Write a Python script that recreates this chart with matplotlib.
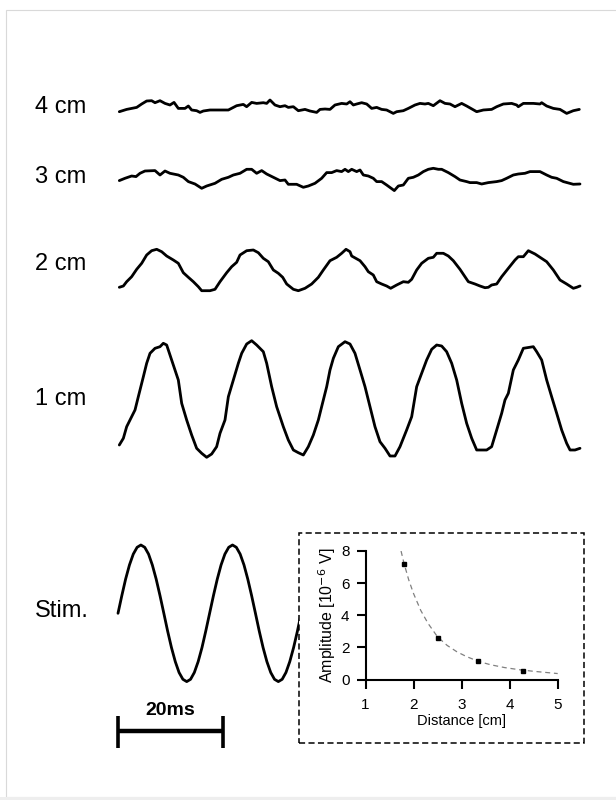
import numpy as np
import matplotlib.pyplot as plt
from matplotlib.patches import Rectangle

plt.rcParams["font.family"] = ["Liberation Sans", "DejaVu Sans"]

t_4cm = [0.25, 1.65, 3.56, 4.51, 5.46, 6.41, 7.05, 8.0, 8.95, 9.9, 10.67, 11.49, 12.76, 13.4, 14.03,
         14.98, 15.62, 16.25, 17.52, 21.02, 22.6, 23.87, 24.5, 25.46, 26.41, 27.68, 28.32, 28.95, 29.9,
         30.86, 31.81, 32.44, 33.4, 34.35, 35.62, 36.57, 37.84, 38.48, 39.43, 40.38, 41.33, 42.6, 43.56,
         44.19, 44.83, 45.46, 46.41, 47.37, 48.32, 49.27, 50.22, 51.17, 51.81, 52.44, 53.08, 54.35, 55.3,
         56.57, 57.52, 58.48, 59.11, 60.06, 61.33, 62.29, 63.24, 64.19, 65.46, 66.41, 68.32, 69.59, 71.17,
         72.13, 73.4, 74.98, 75.94, 76.25, 77.21, 79.11, 80.38, 80.7, 81.65, 82.92, 84.19, 85.46, 86.73, 87.87]
v_4cm = [-0.5, -0.27, -0.07, 0.27, 0.57, 0.6, 0.4, 0.6, 0.33, 0.17, 0.43, -0.17, -0.17, 0.07, -0.33,
         -0.4, -0.57, -0.43, -0.33, -0.33, 0.1, 0.23, 0, 0.43, 0.33, 0.4, 0.33, 0.67, 0.17,
         0, 0.1, -0.07, 0, -0.4, -0.27, -0.43, -0.57, -0.27, -0.23, -0.27, 0.17, 0.33, 0.27,
         0.5, 0.17, 0.27, 0.4, 0.27, -0.17, -0.07, -0.27, -0.33, -0.5, -0.67, -0.5, -0.4, -0.17,
         0.17, 0.33, 0.27, 0.33, 0.1, 0.6, 0.33, 0.27, 0, 0.33, 0.07, -0.5, -0.33, -0.27,
         0, 0.27, 0.33, 0.17, 0, 0.33, 0.33, 0.27, 0.4, 0.07, -0.17, -0.27, -0.67, -0.4, -0.27]

t_3cm = [0.25, 1.33, 2.6, 3.43, 4.19, 5.14, 7.05, 8.0, 8.95, 9.9, 11.49, 12.44, 13.4, 14.67, 15.94,
         16.89, 18.48, 19.75, 21.02, 21.97, 23.24, 24.51, 25.46, 26.41, 27.37, 28.32, 29.59, 30.86, 31.81,
         32.44, 34.03, 35.3, 36.25, 37.52, 38.79, 39.75, 40.7, 41.65, 42.6, 43.24, 43.87, 44.51, 45.46,
         46.1, 46.73, 47.68, 48.63, 49.27, 50.22, 51.17, 52.63, 53.4, 54.35, 55.3, 56.25, 57.21, 58.16,
         59.11, 60.06, 61.02, 61.65, 62.92, 64.19, 65.14, 66.41, 67.05, 68.32, 69.27, 70.54, 72.13, 73.08,
         74.03, 75.3, 76.25, 77.52, 78.48, 80.38, 81.65, 82.6, 83.56, 84.83, 86.73, 88.0]
v_3cm = [-0.13, 0.1, 0.33, 0.27, 0.6, 0.83, 0.87, 0.43, 0.83, 0.6, 0.43, 0.2, -0.23, -0.47, -0.9,
         -0.67, -0.4, 0, 0.2, 0.43, 0.6, 1.0, 1.0, 0.6, 0.87, 0.53, 0.2, -0.13, -0.07,
         -0.5, -0.5, -0.8, -0.67, -0.4, 0.1, 0.67, 0.67, 0.87, 0.77, 1.0, 0.77, 1.0, 0.77,
         0.93, 0.43, 0.33, 0.1, -0.23, -0.23, -0.57, -1.13, -0.67, -0.57, 0.1, 0.2, 0.43, 0.77,
         1.0, 1.1, 1.0, 1.0, 0.67, 0.27, -0.07, -0.23, -0.33, -0.33, -0.47, -0.33, -0.23, -0.13,
         0.1, 0.43, 0.53, 0.6, 0.77, 0.77, 0.43, 0.2, 0.1, -0.23, -0.5, -0.47]

t_2cm = [0.25, 1.02, 1.65, 2.6, 3.56, 4.51, 5.46, 6.41, 7.37, 8.32, 9.27, 10.54, 11.49, 12.44, 13.4,
         14.35, 15.3, 15.94, 17.52, 18.48, 19.43, 20.7, 21.65, 22.6, 23.24, 24.51, 25.78, 26.73, 27.68,
         28.63, 29.59, 30.54, 31.37, 32.13, 33.4, 34.35, 35.62, 36.89, 38.16, 39.11, 40.38, 41.65, 42.6,
         43.43, 44.19, 44.51, 46.1, 47.05, 47.68, 48.63, 49.27, 50.22, 51.17, 51.94, 53.08, 54.35, 55.3,
         55.94, 56.89, 57.84, 59.11, 60.06, 60.7, 61.97, 62.92, 63.87, 65.14, 66.73, 68.0, 68.95, 69.9,
         70.54, 71.17, 72.13, 73.08, 74.35, 75.62, 76.25, 77.21, 78.16, 79.43, 80.38, 81.65, 82.92, 84.19,
         85.46, 86.73, 87.37, 88.0]
v_2cm = [-1.73, -1.6, -1.17, -0.67, 0.07, 0.67, 1.5, 1.93, 2.07, 1.83, 1.4, 1.0, 0.67, -0.27, -0.73,
         -1.17, -1.67, -2.07, -2.07, -1.93, -1.17, -0.27, 0.33, 0.77, 1.5, 1.93, 2.0, 1.73, 1.17,
         0.83, 0, -0.33, -0.73, -1.4, -1.93, -2.07, -1.83, -1.4, -0.73, 0, 0.93, 1.27, 1.67,
         2.07, 1.83, 1.4, 0.93, 0.33, -0.17, -0.5, -1.17, -1.4, -1.6, -1.83, -1.5, -1.17, -1.23,
         -0.93, 0, 0.67, 1.17, 1.27, 1.67, 1.67, 1.4, 0.93, 0.07, -1.17, -1.4, -1.6, -1.77,
         -1.73, -1.5, -1.4, -0.67, 0.17, 1.0, 1.33, 1.33, 1.93, 1.6, 1.27, 0.83, 0, -1.0,
         -1.4, -1.83, -1.73, -1.6]

t_1cm = [0.25, 1.02, 1.65, 2.6, 3.24, 3.87, 4.83, 5.46, 6.1, 7.05, 8.0, 8.63, 9.27, 10.22, 11.49,
         12.13, 13.08, 14.03, 14.98, 15.94, 16.89, 17.84, 18.79, 19.43, 20.38, 21.02, 21.97, 22.92, 23.56,
         24.51, 25.46, 26.41, 27.68, 28.32, 29.27, 30.22, 31.49, 32.44, 33.4, 34.35, 35.3, 36.25, 37.21,
         38.16, 38.79, 39.75, 40.38, 41.02, 41.97, 43.24, 44.19, 45.14, 46.1, 47.05, 48.0, 48.95, 49.9,
         50.86, 51.81, 52.76, 53.71, 54.98, 55.94, 56.89, 57.84, 58.79, 59.75, 60.7, 61.65, 62.6, 63.56,
         64.51, 65.46, 66.41, 67.37, 68.32, 70.22, 71.17, 72.13, 73.08, 73.71, 74.35, 75.3, 76.25, 77.21,
         79.11, 79.75, 80.7, 81.65, 82.6, 83.56, 84.51, 85.46, 86.1, 87.05, 88.0]
v_1cm = [-4.6, -3.93, -2.77, -1.77, -1.1, 0.23, 2.23, 3.57, 4.57, 5.07, 5.23, 5.57, 5.4, 3.9, 1.9,
         -0.43, -2.1, -3.6, -4.93, -5.43, -5.83, -5.5, -4.77, -3.43, -2.1, 0.23, 1.9, 3.57, 4.57,
         5.5, 5.83, 5.4, 4.73, 3.57, 1.23, -0.77, -2.77, -4.1, -5.1, -5.37, -5.6, -4.77, -3.6,
         -2.1, -0.77, 1.23, 2.9, 4.07, 5.23, 5.73, 5.5, 4.57, 2.9, 1.23, -0.77, -2.77, -4.27,
         -4.93, -5.7, -5.7, -4.77, -3.1, -1.77, 1.23, 2.57, 3.9, 4.97, 5.4, 5.3, 4.73, 3.57,
         1.9, -0.43, -2.43, -3.93, -5.1, -5.1, -4.77, -3.1, -1.43, -0.1, 0.57, 2.9, 3.9, 5.07,
         5.23, 4.73, 3.9, 1.9, 0.23, -1.43, -3.1, -4.43, -5.1, -5.1, -4.93]

# stimulus sine, sampled every ~0.73 ms
t_stim = [0.0, 0.73, 1.45, 2.18, 2.91, 3.64, 4.36, 5.09, 5.82, 6.54, 7.27, 8.0, 8.73, 9.45, 10.18,
          10.91, 11.63, 12.36, 13.09, 13.82, 14.54, 15.27, 16.0, 16.72, 17.45, 18.18, 18.91, 19.63,
          20.36, 21.09, 21.81, 22.54, 23.27, 24.0, 24.72, 25.45, 26.18, 26.9, 27.63, 28.36, 29.09,
          29.81, 30.54, 31.27, 31.99, 32.72, 33.45, 34.18, 34.9, 35.63]
v_stim = [0, 1.77, 3.42, 4.83, 5.92, 6.6, 6.83, 6.6, 5.92, 4.83, 3.42, 1.77, 0, -1.77, -3.42,
          -4.83, -5.92, -6.6, -6.83, -6.6, -5.92, -4.83, -3.42, -1.77, 0, 1.77, 3.42, 4.83,
          5.92, 6.6, 6.83, 6.6, 5.92, 4.83, 3.42, 1.77, 0, -1.77, -3.42, -4.83, -5.92,
          -6.6, -6.83, -6.6, -5.92, -4.83, -3.42, -1.77, 0, 1.77]

trace_labels = ["4 cm", "3 cm", "2 cm", "1 cm", "Stim."]
scale_ms = 20

# inset: amplitude vs distance
dist_cm = [1.8, 2.5, 3.35, 4.27]
amp_uv = [7.22, 2.58, 1.17, 0.52]
fit_x = [1.74, 1.8, 1.9, 2.0, 2.15, 2.3, 2.5, 2.7, 2.9, 3.1, 3.35, 3.6, 3.9, 4.2, 4.5, 4.75, 5.0]
fit_y = [8.0, 7.25, 6.2, 5.35, 4.3, 3.5, 2.65, 2.12, 1.73, 1.43, 1.13, 0.92, 0.74, 0.61, 0.51, 0.44, 0.37]


def main():
    W, H = 616, 800
    fig = plt.figure(figsize=(W / 100, H / 100), dpi=100)

    # page frame
    fig.add_artist(Rectangle((6 / W, 3 / H), 1.0, 787 / H, transform=fig.transFigure,
                             facecolor="none", edgecolor="#d9d9d9", lw=0.8, zorder=0.5))
    fig.add_artist(Rectangle((0, 0), 1, 3 / H, transform=fig.transFigure,
                             facecolor="#eeeeee", edgecolor="none", zorder=0.5))

    # main axes: 5.25 px per ms, 10 px per unit, t=0 at x=118 px
    ax = fig.add_axes([0, 0, 1, 1])
    ax.set_xlim(-118 / 5.25, (W - 118) / 5.25)
    ax.set_ylim(-H / 10, 0)
    ax.axis("off")
    ax.patch.set_alpha(0)

    traces = [(t_4cm, v_4cm), (t_3cm, v_3cm), (t_2cm, v_2cm), (t_1cm, v_1cm), (t_stim, v_stim)]
    offsets = [-10.67, -17.93, -27.0, -39.9, -61.33]
    label_base = [-11.33, -18.33, -27.0, -40.5, -61.67]

    for (t, v), off, lab, yb in zip(traces, offsets, trace_labels, label_base):
        ax.plot(t, np.array(v) + off, color="black", lw=2.0,
                solid_joinstyle="round", solid_capstyle="round")
        ax.text((35 - 118) / 5.25, yb, lab, ha="left", va="baseline", fontsize=17)

    # scale bar
    ax.plot([0, scale_ms], [-73.1, -73.1], color="black", lw=3.2, solid_capstyle="butt")
    for x in [0, scale_ms]:
        ax.plot([x, x], [-71.6, -74.8], color="black", lw=2.6, solid_capstyle="butt")
    ax.text(scale_ms / 2, -71.5, f"{scale_ms}ms", ha="center", va="baseline",
            fontsize=14, fontweight="bold")

    # dashed inset frame (white, covers end of stim trace)
    fig.add_artist(Rectangle((298.7 / W, (H - 743.3) / H), (584 - 298.7) / W, (743.3 - 533) / H,
                             transform=fig.transFigure, facecolor="white", edgecolor="black",
                             lw=1.1, linestyle=(0, (4, 2.2)), zorder=1))

    axi = fig.add_axes([365.5 / W, (H - 679.5) / H, (557.7 - 365.5) / W, (679.5 - 551) / H])
    axi.set_zorder(2)
    axi.patch.set_alpha(0)
    axi.plot(fit_x, fit_y, color="#808080", lw=0.9, linestyle=(0, (4, 3)))
    axi.plot(dist_cm, amp_uv, "s", color="black", markersize=3.2)
    axi.set_xlim(1, 5)
    axi.set_ylim(0, 8)
    axi.set_xticks([1, 2, 3, 4, 5])
    axi.set_yticks([0, 2, 4, 6, 8])
    for s in ["top", "right"]:
        axi.spines[s].set_visible(False)
    for s in ["left", "bottom"]:
        axi.spines[s].set_linewidth(1.5)
    axi.tick_params(axis="both", width=1.5, length=6.5, labelsize=11, direction="out")
    axi.tick_params(axis="x", pad=7)
    axi.tick_params(axis="y", pad=5)
    axi.set_xlabel("Distance [cm]", fontsize=10.5, labelpad=1)
    axi.set_ylabel(r"Amplitude [10$^{-6}$ V]", fontsize=11.5, labelpad=2)

    plt.savefig("out.png", dpi=100)
    plt.close()


if __name__ == "__main__":
    main()
